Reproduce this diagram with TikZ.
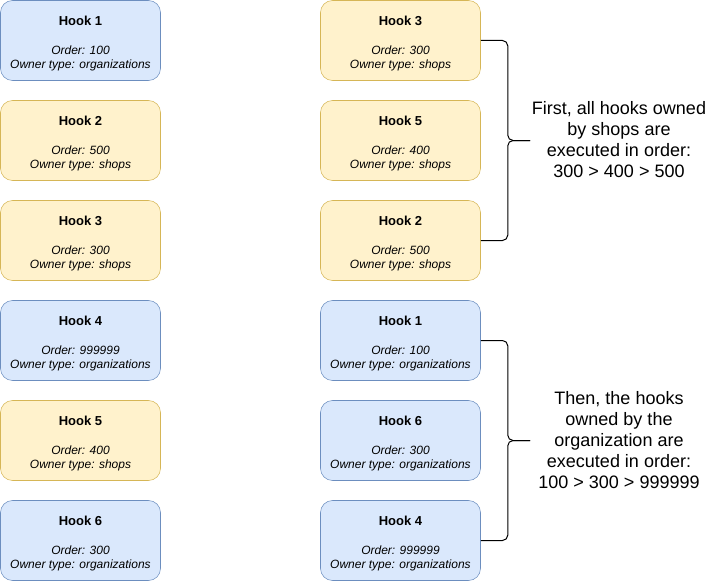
\documentclass[tikz,border=0pt]{standalone}
\usepackage{fontspec}
\setmainfont{Liberation Sans}
\usetikzlibrary{positioning,calc}
\definecolor{orgfill}{HTML}{DAE8FC}
\definecolor{orgline}{HTML}{6C8EBF}
\definecolor{shopfill}{HTML}{FFF2CC}
\definecolor{shopline}{HTML}{D6B656}
\tikzset{
    hookbox/.style={draw, rounded corners=9pt, minimum width=120pt, minimum height=60pt,
        inner sep=0pt, align=center, font=\fontsize{9}{10.5}\selectfont},
    org/.style={hookbox, fill=orgfill, draw=orgline},
    shop/.style={hookbox, fill=shopfill, draw=shopline},
    brace/.style={draw=black, line width=0.75pt, rounded corners=4pt},
    note/.style={align=center, font=\fontsize{13.5}{15.75}\selectfont}
}
\newcommand{\hooktext}[3]{{\fontsize{9.75}{10.5}\selectfont\bfseries\rule{0pt}{11pt}Hook #1}\\[11.25pt]\textit{Order: #2}\\\textit{Owner type: #3}}

\begin{document}
\begin{tikzpicture}[x=0.75pt,y=-0.75pt]
\useasboundingbox (0,0) rectangle (709,581);
% registered order
\foreach \n/\k/\ord/\own/\sty in {1/0/100/organizations/org, 2/1/500/shops/shop,
        3/2/300/shops/shop, 4/3/999999/organizations/org,
        5/4/400/shops/shop, 6/5/300/organizations/org}{
    \node[\sty] (left\n) at (80.5,40.5+100*\k) {\hooktext{\n}{\ord}{\own}};
}
% execution order
\foreach \n/\k/\ord/\own/\sty in {3/0/300/shops/shop, 5/1/400/shops/shop,
        2/2/500/shops/shop, 1/3/100/organizations/org,
        6/4/300/organizations/org, 4/5/999999/organizations/org}{
    \node[\sty] (right\n) at (400.5,40.5+100*\k) {\hooktext{\n}{\ord}{\own}};
}
% braces
\coordinate (shoptip) at (530,140.5);
\coordinate (orgtip) at (530,440.5);
\draw[brace] (right3.east) -- ++(27,0) |- (shoptip);
\draw[brace] (right2.east) -- ++(27,0) |- (shoptip);
\draw[brace] (right1.east) -- ++(27,0) |- (orgtip);
\draw[brace] (right4.east) -- ++(27,0) |- (orgtip);
\node[note] (shopnote) at (619,140) {First, all hooks owned\\by shops are\\executed in order:\\300 > 400 > 500};
\node[note] (orgnote) at (619,440) {Then, the hooks\\owned by the\\organization are\\executed in order:\\100 > 300 > 999999};
\end{tikzpicture}
\end{document}
